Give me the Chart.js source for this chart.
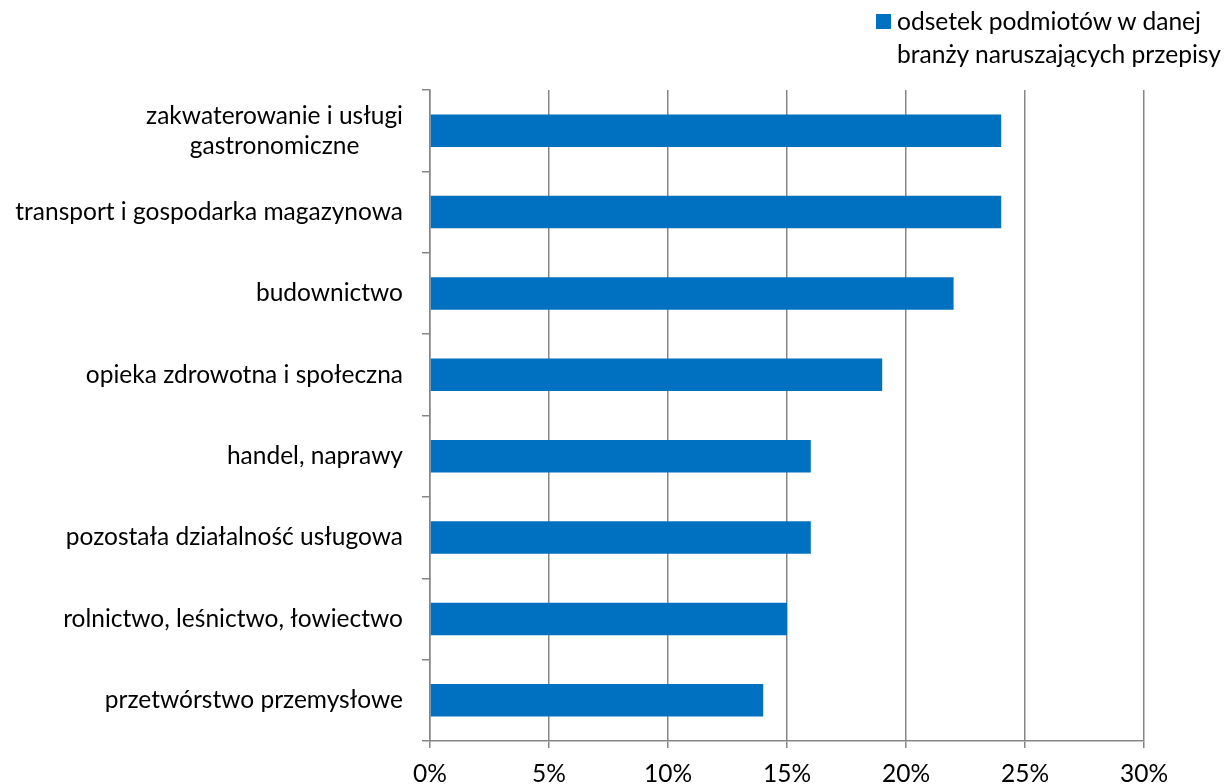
<!DOCTYPE html>
<html>
<head>
<meta charset="utf-8">
<script src="https://cdn.jsdelivr.net/npm/chart.js@4/dist/chart.umd.min.js"></script>
<style>
  body { margin: 0; background: #fff; }
  #wrap { position: relative; width: 1226px; height: 784px; }
  #legend {
    position: absolute; left: 876px; top: 4px;
    font-family: Lato, sans-serif; font-size: 24.6px; line-height: 33px; color: #000;
  }
  #legend .box {
    position: absolute; left: 0; top: 10px; width: 15px; height: 15px; background: #0070C0;
  }
  #legend .txt { margin-left: 21px; white-space: nowrap; }
</style>
</head>
<body>
<div id="wrap">
  <canvas id="chart"></canvas>
  <div id="legend"><div class="box"></div><div class="txt">odsetek podmiotów w danej<br>branży naruszających przepisy</div></div>
</div>
<script>
const categories = [
  ["zakwaterowanie i usługi", "gastronomiczne"],
  ["transport i gospodarka magazynowa"],
  ["budownictwo"],
  ["opieka zdrowotna i społeczna"],
  ["handel, naprawy"],
  ["pozostała działalność usługowa"],
  ["rolnictwo, leśnictwo, łowiectwo"],
  ["przetwórstwo przemysłowe"]
];
const values = [24, 24, 22, 19, 16, 16, 15, 14];
const seriesName = "odsetek podmiotów w danej branży naruszających przepisy";

const FONT_SIZE = 24.5;
const FONT = FONT_SIZE + "px Lato, sans-serif";
const GRAY = "#868686";

// category labels: block right-aligned, lines centred inside the block
const yLabels = {
  id: "yLabels",
  afterDraw(chart) {
    const s = chart.scales.y;
    const ctx = chart.ctx;
    const right = chart.chartArea.left - 27;
    ctx.save();
    ctx.font = FONT;
    ctx.fillStyle = "#000";
    ctx.textBaseline = "middle";
    ctx.textAlign = "center";
    categories.forEach((lines, i) => {
      const y = s.getPixelForTick(i);
      const w = Math.max(...lines.map(l => ctx.measureText(l).width));
      const cx = right - w / 2;
      const lh = 30;
      lines.forEach((l, k) => {
        ctx.fillText(l, cx, y + (k - (lines.length - 1) / 2) * lh);
      });
    });
    ctx.restore();
  }
};

new Chart(document.getElementById("chart"), {
  type: "bar",
  data: {
    labels: categories.map(c => c.join(" ")),
    datasets: [{
      label: seriesName,
      data: values,
      backgroundColor: "#0070C0",
      categoryPercentage: 0.4,
      barPercentage: 1
    }]
  },
  options: {
    indexAxis: "y",
    responsive: true,
    maintainAspectRatio: false,
    animation: false,
    layout: { padding: { top: 90, right: 82, left: 0, bottom: 0 } },
    plugins: { legend: { display: false }, tooltip: { enabled: false } },
    scales: {
      x: {
        min: 0,
        max: 30,
        ticks: {
          stepSize: 5,
          color: "#000",
          font: { family: "Lato, sans-serif", size: FONT_SIZE },
          padding: 11,
          callback: v => v + "%"
        },
        grid: { color: GRAY, lineWidth: 1.5, tickLength: 7 },
        border: { color: GRAY, width: 1.5 },
        afterFit: s => { s.height = 43; }
      },
      y: {
        ticks: { display: false },
        grid: { drawOnChartArea: false, color: GRAY, lineWidth: 1.5, tickLength: 8 },
        border: { color: GRAY, width: 1.5 },
        afterFit: s => { s.width = 430; }
      }
    }
  },
  plugins: [yLabels]
});
</script>
</body>
</html>
